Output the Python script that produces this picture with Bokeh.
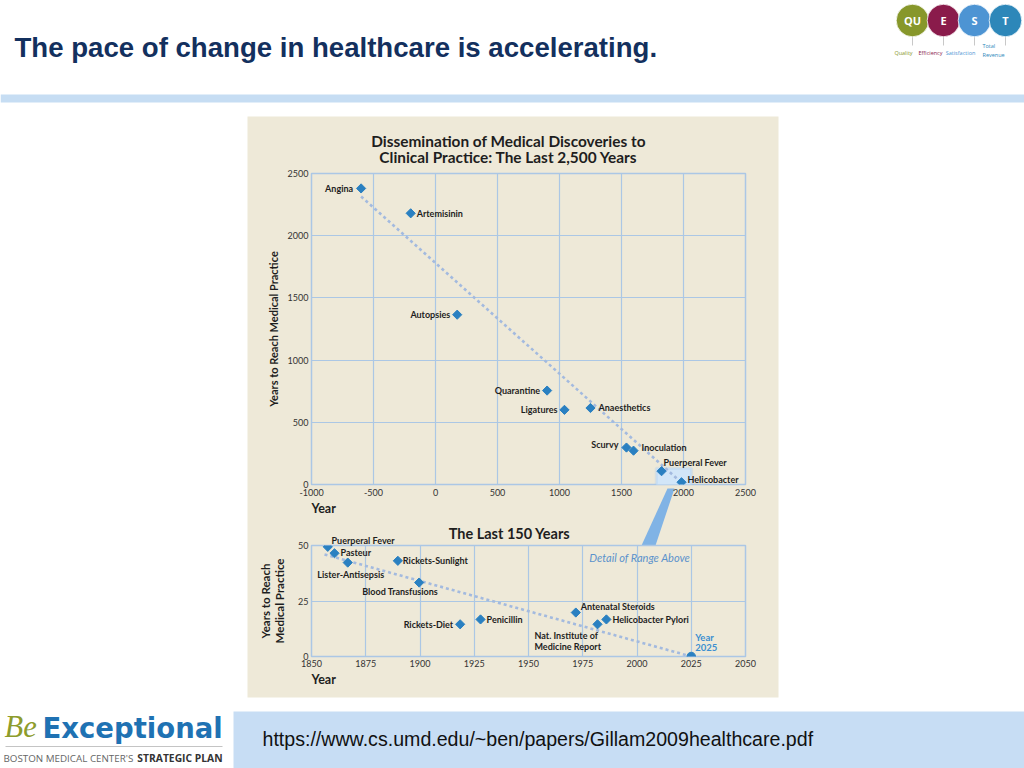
from bokeh.plotting import figure
from bokeh.models import (ColumnDataSource, FixedTicker, Title, BoxAnnotation,
                          Range1d, GridBox)
from bokeh.core.properties import value
from bokeh.embed import file_html
from bokeh.resources import INLINE

# ---------------- data ----------------
TOP_NAMES = ["Angina", "Artemisinin", "Autopsies", "Quarantine", "Ligatures",
             "Anaesthetics", "Scurvy", "Inoculation", "Puerperal Fever", "Helicobacter"]
TOP_YEAR = [-600, -200, 175, 900, 1040, 1250, 1540, 1597, 1823, 1984]
TOP_LAG = [2380, 2180, 1365, 755, 600, 615, 297, 272, 107, 18]
TOP_TREND_YEAR = [-600, 2000]
TOP_TREND_LAG = [2315, 0]
TOP_X_TICKS = [-1000, -500, 0, 500, 1000, 1500, 2000, 2500]
TOP_X_TICK_LABELS = ["-1000", "-500", "0", "500", "1000", "1500", "2000", "2500"]
TOP_Y_TICKS = [0, 500, 1000, 1500, 2000, 2500]
DETAIL_YEAR = [1780, 2065]
DETAIL_LAG = [-30, 130]

BOTTOM_NAMES = ["Puerperal Fever", "Pasteur", "Lister-Antisepsis", "Rickets-Sunlight",
                "Blood Transfusions", "Rickets-Diet", "Penicillin", "Antenatal Steroids",
                "Nat. Institute of\nMedicine Report", "Helicobacter Pylori"]
BOTTOM_YEAR = [1857.5, 1860.6, 1866.7, 1889.8, 1899.6, 1918.5, 1927.9, 1971.8, 1981.8, 1985.9]
BOTTOM_LAG = [49.4, 46.5, 42.3, 43.1, 33.3, 14.5, 16.7, 19.8, 14.5, 16.7]
BOTTOM_TREND_YEAR = [1856, 2025]
BOTTOM_TREND_LAG = [46, 0]
TARGET_NAME = ["Year\n2025"]
TARGET_YEAR = [2025]
TARGET_LAG = [0]
BOTTOM_X_TICKS = [1850, 1875, 1900, 1925, 1950, 1975, 2000, 2025, 2050]
BOTTOM_Y_TICKS = [0, 25, 50]

TOP_TITLE = "Dissemination of Medical Discoveries to\nClinical Practice: The Last 2,500 Years"
BOTTOM_TITLE = "The Last 150 Years"
Y_LABEL_TOP = "Years to Reach Medical Practice"
Y_LABEL_BOTTOM = "Years to Reach\nMedical Practice"
X_LABEL = "Year"
DETAIL_NOTE = "Detail of Range Above"

# ---------------- label placement (styles) ----------------
TOP_ALIGN = ["right", "left", "right", "right", "right", "left", "right", "left", "left", "left"]
TOP_DX = [-8, 6, -7, -7, -7, 8, -8, 8, 2, 6]
TOP_DY = [0, 0, 0, 0, 0, 0, -3, -3, -9, -3]
# "above" = label sits above the plot frame (drawn as a side-panel title)
BOTTOM_ALIGN = ["above", "left", "center", "left", "center", "right", "left", "left", "left", "left"]
BOTTOM_DX = [20, 6, 3, 5, -19, -7, 6, 5, -63, 6]
BOTTOM_DY = [0, -1, 12, 0, 9, 0, 0, -6, 17, 0]

BEIGE = "#eee9d8"
GRID = "#abc7e5"
MARK = "#2a80c1"
TREND = "#a3badf"
TEXT = "#1e1e1e"
FONT = "Lato"

W, H = 1024, 768


def style_chart(p, xticks, yticks):
    p.xaxis.ticker = FixedTicker(ticks=xticks)
    p.yaxis.ticker = FixedTicker(ticks=yticks)
    for ax in p.axis:
        ax.axis_line_color = None
        ax.major_tick_line_color = None
        ax.minor_tick_line_color = None
        ax.major_tick_in = 0
        ax.major_tick_out = 0
        ax.major_label_text_font = FONT
        ax.major_label_text_font_size = "9px"
        ax.major_label_text_color = "#333333"
        ax.axis_label_text_font = FONT
        ax.axis_label_text_font_style = "bold"
        ax.axis_label_text_color = TEXT
    p.xaxis.major_label_standoff = 4
    p.yaxis.major_label_standoff = 3
    p.grid.grid_line_color = GRID
    p.grid.grid_line_width = 1.2
    p.outline_line_color = GRID
    p.outline_line_width = 1.5
    p.background_fill_color = BEIGE
    p.border_fill_alpha = 0
    p.title.text = ""
    p.add_layout(Title(text=X_LABEL, align="left", standoff=0, text_font=FONT,
                       text_font_style="bold", text_font_size="12.5px", text_color=TEXT), "below")


# ---------------- top chart ----------------
p1 = figure(width=530, height=400, x_range=(-1000, 2500), y_range=(0, 2500),
            output_backend="svg", toolbar_location=None,
            min_border_left=63, min_border_right=33, min_border_top=57, min_border_bottom=32)
style_chart(p1, TOP_X_TICKS, TOP_Y_TICKS)
p1.xaxis.major_label_overrides = dict(zip(TOP_X_TICKS, TOP_X_TICK_LABELS))
p1.yaxis.axis_label = Y_LABEL_TOP
p1.yaxis.axis_label_text_font_size = "11px"
p1.yaxis.axis_label_standoff = 5

p1.add_layout(BoxAnnotation(left=DETAIL_YEAR[0], right=DETAIL_YEAR[1],
                            bottom=DETAIL_LAG[0], top=DETAIL_LAG[1],
                            fill_color="#d2e6f8", fill_alpha=1.0,
                            line_color="#a6c9ee", line_width=3, level="underlay"))
p1.line(TOP_TREND_YEAR, TOP_TREND_LAG, line_color=TREND, line_width=2.6, line_dash="3 3")
src1 = ColumnDataSource(dict(x=TOP_YEAR, y=TOP_LAG, name=TOP_NAMES,
                             align=TOP_ALIGN, dx=TOP_DX, dy=TOP_DY))
p1.scatter("x", "y", source=src1, marker="square", angle=0.7854, size=6.5,
           fill_color=MARK, line_color=MARK)
p1.text("x", "y", text="name", source=src1, text_align="align", x_offset="dx", y_offset="dy",
        text_baseline="middle", text_font=value(FONT), text_font_style="bold",
        text_font_size="9px", text_color=TEXT)

# ---------------- bottom chart ----------------
p2 = figure(width=530, height=181, x_range=(1850, 2050), y_range=(0, 50),
            output_backend="svg", toolbar_location=None,
            min_border_left=63, min_border_right=33, min_border_top=29, min_border_bottom=41)
style_chart(p2, BOTTOM_X_TICKS, BOTTOM_Y_TICKS)
p2.xaxis.major_label_standoff = 3
p2.yaxis.axis_label = Y_LABEL_BOTTOM
p2.yaxis.axis_label_text_font_size = "11.5px"
p2.yaxis.axis_label_text_line_height = 1.07
p2.yaxis.axis_label_standoff = 9

p2.line(BOTTOM_TREND_YEAR, BOTTOM_TREND_LAG, line_color=TREND, line_width=2.6, line_dash="3 3")
p2.scatter(BOTTOM_YEAR, BOTTOM_LAG, marker="square", angle=0.7854, size=6.5,
           fill_color=MARK, line_color=MARK)
inside = [i for i, a in enumerate(BOTTOM_ALIGN) if a != "above"]
src2 = ColumnDataSource(dict(x=[BOTTOM_YEAR[i] for i in inside], y=[BOTTOM_LAG[i] for i in inside],
                             name=[BOTTOM_NAMES[i] for i in inside],
                             align=[BOTTOM_ALIGN[i] for i in inside],
                             dx=[BOTTOM_DX[i] for i in inside], dy=[BOTTOM_DY[i] for i in inside]))
p2.text("x", "y", text="name", source=src2, text_align="align", x_offset="dx", y_offset="dy",
        text_baseline="middle", text_font=value(FONT), text_font_style="bold",
        text_font_size="9px", text_color=TEXT, text_line_height=1.03)
for i, a in enumerate(BOTTOM_ALIGN):
    if a == "above":
        p2.add_layout(Title(text=BOTTOM_NAMES[i], align="left", offset=BOTTOM_DX[i], standoff=0,
                            text_font=FONT, text_font_style="bold", text_font_size="9px",
                            text_color=TEXT), "above")
p2.scatter(TARGET_YEAR, TARGET_LAG, marker="circle", size=8.5, fill_color=MARK, line_color=MARK)
p2.text(TARGET_YEAR, TARGET_LAG, text=TARGET_NAME, x_offset=4, y_offset=-14,
        text_baseline="middle", text_font=value(FONT), text_font_style="bold",
        text_font_size="9.5px", text_color="#3b8fd0", text_line_height=0.95)
p2.text([1978], [44.6], text=[DETAIL_NOTE], text_baseline="middle",
        text_font=value(FONT), text_font_style="italic", text_font_size="11px",
        text_color="#5b92cc")

# ---------------- page canvas (slide decoration, pixel coordinates) ----------------
base = figure(width=W, height=H, x_range=Range1d(0, W), y_range=Range1d(H, 0),
              output_backend="svg", toolbar_location=None, min_border=0,
              x_axis_type=None, y_axis_type=None, outline_line_color=None)
base.grid.visible = False
base.title.text = ""

# header
base.text([14], [46.5], text=["The pace of change in healthcare is accelerating."],
          text_baseline="middle", text_font=value("Liberation Sans"), text_font_style="bold",
          text_font_size="27.6px", text_color="#13305e")
base.quad(left=[0], right=[W], top=[94], bottom=[102], fill_color="#c6ddf3", line_color=None)
LOGO_X = [912, 943, 974, 1005]
LOGO_COL = ["#87972b", "#8a1b4b", "#4d94d3", "#2d87b9"]
LOGO_TXT = ["QU", "E", "S", "T"]
base.segment(x0=LOGO_X, y0=[34] * 4, x1=LOGO_X, y1=[45] * 4, line_color="#c8c8c8", line_width=1)
base.circle(LOGO_X, [20] * 4, radius=16.3, fill_color=LOGO_COL, line_color="white", line_width=0.8)
base.text(LOGO_X, [20] * 4, text=LOGO_TXT, text_align="center", text_baseline="middle",
          text_font=value("Open Sans"), text_font_style="bold", text_font_size="11px",
          text_color="white")
base.text([903, 930, 960, 982], [52, 52, 52, 50],
          text=["Quality", "Efficiency", "Satisfaction", "Total\nRevenue"],
          text_align=["center", "center", "center", "left"], text_baseline="middle",
          text_font=value("Open Sans"), text_font_size="5.5px", text_line_height=1.1,
          text_color=LOGO_COL)

# beige panel with the chart headings and the callout wedge
base.quad(left=[247], right=[778], top=[116], bottom=[697], fill_color=BEIGE, line_color=None)
base.text([508], [148.5], text=[TOP_TITLE], text_align="center", text_baseline="middle",
          text_font=value(FONT), text_font_style="bold", text_font_size="15.4px",
          text_line_height=0.92, text_color=TEXT)
base.text([509], [532.5], text=[BOTTOM_TITLE], text_align="center", text_baseline="middle",
          text_font=value(FONT), text_font_style="bold", text_font_size="14.5px", text_color=TEXT)
base.patch([667, 674, 655, 641], [488, 488, 545, 545], fill_color="#80b3e5", line_color=None)

# footer
base.quad(left=[233], right=[W], top=[711], bottom=[H], fill_color="#c7ddf4", line_color=None)
base.text([262], [738.5], text=["https://www.cs.umd.edu/~ben/papers/Gillam2009healthcare.pdf"],
          text_baseline="middle", text_font=value("Liberation Sans"), text_font_size="19.6px",
          text_color="#111111")
base.text([4], [726.5], text=["Be"], text_baseline="middle", text_font=value("Liberation Serif"),
          text_font_style="italic", text_font_size="30.5px", text_color="#8d9c2c")
base.text([42], [727], text=["Exceptional"], text_baseline="middle", text_font=value("DejaVu Sans"),
          text_font_style="bold", text_font_size="27.5px", text_color="#1f72b3")
base.segment(x0=[5], y0=[746], x1=[222], y1=[746], line_color="#c4c4c4", line_width=1)
base.text([3], [757.5], text=["BOSTON MEDICAL CENTER'S"], text_baseline="middle",
          text_font=value("Open Sans"), text_font_size="9.8px", text_color="#666666")
base.text([222], [757.5], text=["STRATEGIC PLAN"], text_baseline="middle", text_align="right",
          text_font=value("Open Sans"), text_font_style="bold", text_font_size="10.3px",
          text_color="#333333")

page = GridBox(children=[(base, 0, 0, 4, 3), (p1, 1, 1), (p2, 2, 1)],
               rows=["116px", "400px", "181px", "71px"], cols=["248px", "530px", "246px"])

open("out.html", "w").write(file_html(page, INLINE))
